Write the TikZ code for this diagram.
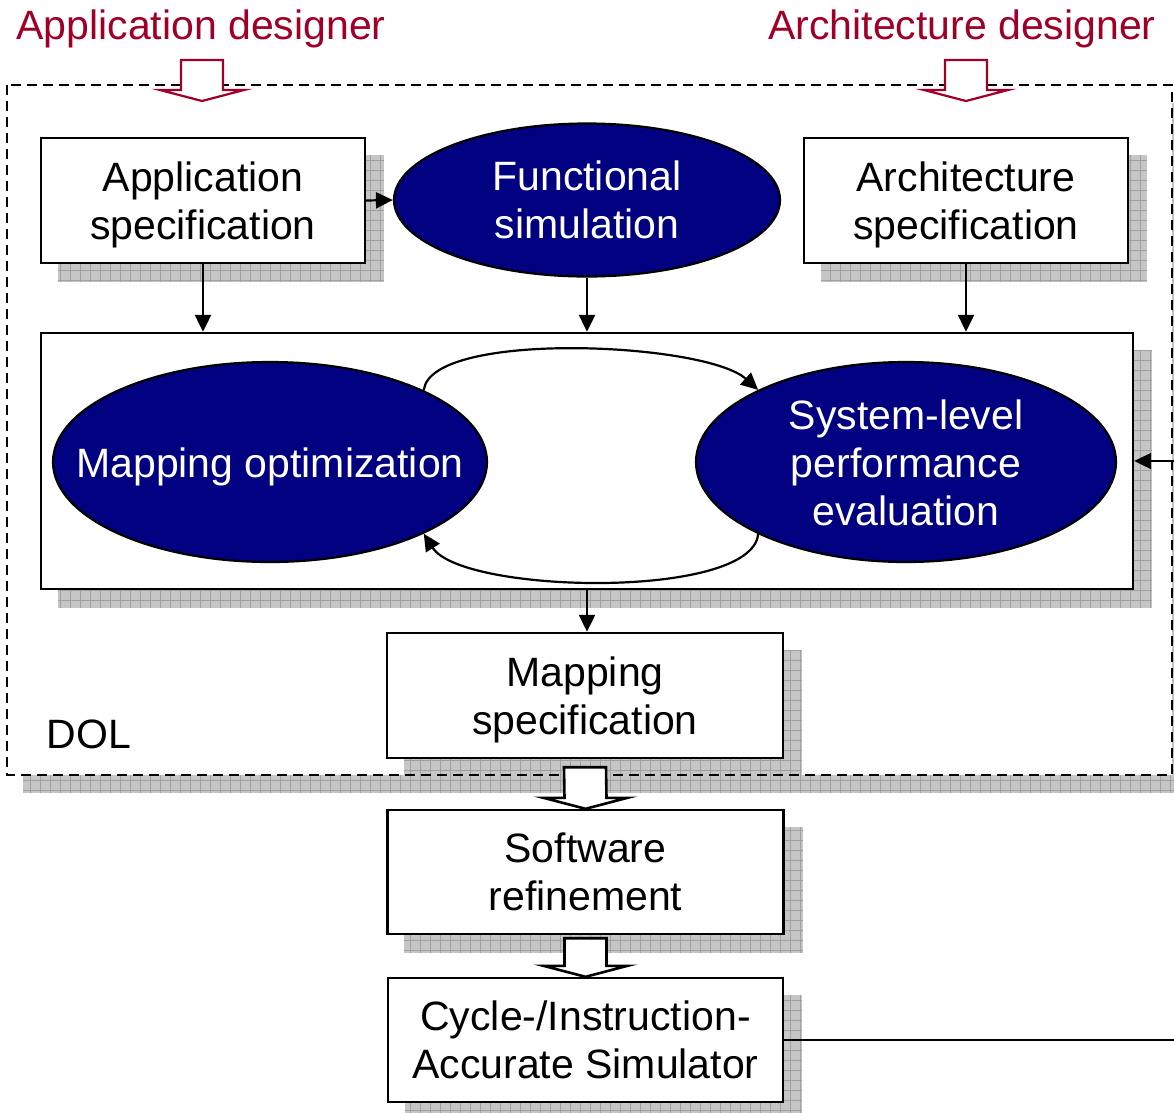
\documentclass[tikz,border=0pt]{standalone}
\usepackage{fontspec}
\setmainfont{Liberation Sans}
\usetikzlibrary{arrows.meta,calc,shapes.geometric}
\pgfdeclarelayer{background}
\pgfsetlayers{background,main}
\definecolor{navyfill}{RGB}{0,0,128}
\definecolor{designerred}{RGB}{160,0,40}
\definecolor{shadefill}{RGB}{198,198,198}
\definecolor{shadegrid}{RGB}{160,160,160}

\tikzset{
  every node/.style={font=\fontsize{41}{48}\selectfont, inner sep=0pt},
  specbox/.style={draw, line width=2.4pt, fill=white, rectangle, align=center},
  taskoval/.style={draw, line width=2.2pt, fill=navyfill, ellipse},
  ovaltext/.style={text=white, align=center},
  conn/.style={line width=2.2pt, -{Triangle[length=17pt,width=16pt]}},
  bigarrow/.style={line width=2.6pt, fill=white, line join=miter},
  roleflow/.style={bigarrow, draw=designerred, line width=2.2pt},
  dolborder/.style={line width=2pt, dash pattern=on 10pt off 6pt},
}

% grey hatched drop shadow of a rectangular node
\newcommand{\shadowof}[1]{%
  \path ($(#1.north west)+(18,18)$) coordinate (sA)
        ($(#1.south east)+(18,18)$) coordinate (sB);
  \fill[shadefill] (sA) rectangle (sB);
  \draw[shadegrid, line width=0.7pt, step=10pt] (sA) grid (sB);
}

% hollow block arrow from a top point down to a tip point
\newcommand{\blockarr}[3]{%
  \draw[#1] ($(#2)+(-21,0)$) -- ($(#2)+(21,0)$) -- ($(#3)+(21,-11)$)
    -- ($(#3)+(42,-11)$) -- (#3) -- ($(#3)+(-42,-11)$)
    -- ($(#3)+(-21,-11)$) -- cycle;
}

\begin{document}
\begin{tikzpicture}[x=1pt, y=-1pt]
\useasboundingbox (0,0) rectangle (1174,1112);

% designer roles
\node[text=designerred, anchor=base] (appdes) at (201,39) {Application designer};
\node[text=designerred, anchor=base] (archdes) at (962,39) {Architecture designer};

% DOL frame corners
\coordinate (dolNW) at (7,85);
\coordinate (dolSE) at (1172,775);

% specification boxes
\node[specbox, minimum width=324pt, minimum height=125pt] (appspec) at (203,200.5) {};
\node[ovaltext, text=black] at ([yshift=-4pt]appspec.center) {Application\\specification};
\node[taskoval, minimum width=386pt, minimum height=153pt,
      label={[ovaltext]center:{Functional\\simulation}}] (funcsim) at (587,200) {};
\node[specbox, minimum width=324pt, minimum height=125pt] (archspec) at (966,200.5) {};
\node[ovaltext, text=black] at ([yshift=-4pt]archspec.center) {Architecture\\specification};

% design space exploration loop
\node[specbox, minimum width=1092pt, minimum height=256pt] (mapbox) at (587,461) {};
\node[taskoval, minimum width=434pt, minimum height=200pt,
      label={[ovaltext, yshift=-5pt]center:{Mapping optimization}}] (mapopt) at (270,462) {};
\node[taskoval, minimum width=420pt, minimum height=200pt,
      label={[ovaltext, yshift=-1pt]center:{System-level\\performance\\evaluation}}] (perfeval) at (906,462) {};

% outputs
\node[specbox, minimum width=396pt, minimum height=125pt] (mapspec) at (585,695.5) {};
\node[ovaltext, text=black] at ([yshift=-4pt]mapspec.center) {Mapping\\specification};
\node[specbox, minimum width=396pt, minimum height=124pt] (swref) at (585.5,872) {Software\\refinement};
\node[specbox, minimum width=395pt, minimum height=124pt] (sim) at (585.5,1040) {Cycle-/Instruction-\\Accurate Simulator};

\node[anchor=base] (dol) at (89,748) {DOL};

% background: frame shadow, frame fill, box shadows
\begin{pgfonlayer}{background}
  \fill[shadefill] (23,103) rectangle (1190,793);
  \draw[shadegrid, line width=0.7pt, step=10pt] (23,103) grid (1190,793);
  \fill[white] (dolNW) rectangle (dolSE);
  \shadowof{appspec}
  \shadowof{archspec}
  \shadowof{mapbox}
  \shadowof{mapspec}
  \shadowof{swref}
  \shadowof{sim}
\end{pgfonlayer}

% connectors
\draw[conn] (appspec.east) -- (funcsim.west);
\draw[conn] (appspec.south) -- (appspec.south |- mapbox.north);
\draw[conn] (funcsim.south) -- (funcsim.south |- mapbox.north);
\draw[conn] (archspec.south) -- (archspec.south |- mapbox.north);
\draw[conn] (mapbox.south) -- (mapbox.south |- mapspec.north);

\draw[conn] (mapopt.25) .. controls (430,330) and (705,342) .. (perfeval.154);
\draw[conn] (perfeval.206) .. controls (752,600) and (462,594) .. (mapopt.335);

\draw[conn] (sim.east) -- ++(410,0) |- (mapbox.east);

% DOL frame
\draw[dolborder] (dolNW) rectangle (dolSE);

% block arrows
\coordinate (adtop) at (202,60);
\coordinate (adtip) at (202,101);
\coordinate (rdtop) at (966,60);
\coordinate (rdtip) at (966,101);
\blockarr{roleflow}{adtop}{adtip}
\blockarr{roleflow}{rdtop}{rdtip}

\coordinate (b1top) at ($(mapspec.south)+(0,8)$);
\coordinate (b2top) at ($(swref.south)+(0,3)$);
\blockarr{bigarrow}{b1top}{swref.north}
\blockarr{bigarrow}{b2top}{sim.north}
\end{tikzpicture}
\end{document}
